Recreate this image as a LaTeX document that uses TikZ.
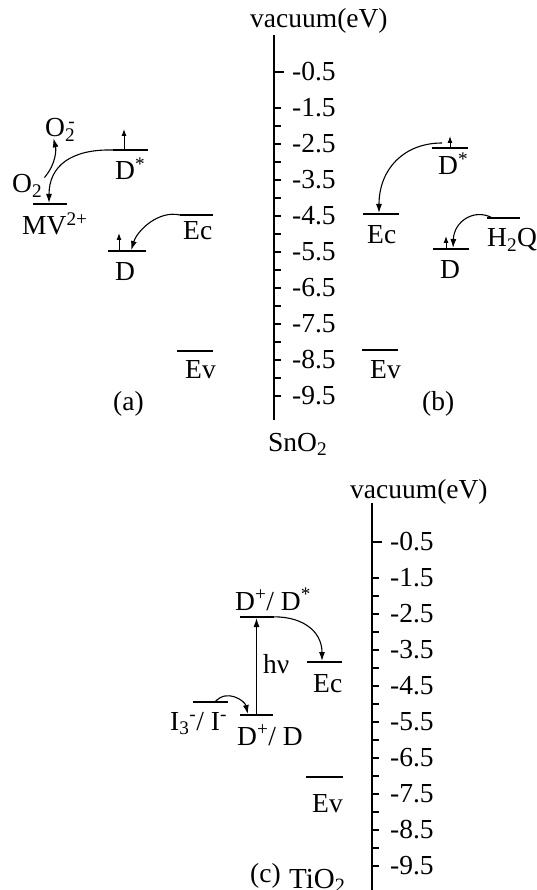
\documentclass[tikz,border=0pt]{standalone}
\usepackage{fontspec}
\setmainfont{Liberation Serif}
\usetikzlibrary{arrows.meta}

\begin{document}
\begin{tikzpicture}[x=1pt, y=-1pt,
  lvl/.style={minimum width=35pt, minimum height=0pt, inner sep=0pt, outer sep=0pt,
              append after command={(\tikzlastnode.west) edge[line width=1.5pt] (\tikzlastnode.east)}},
  lbl/.style={inner sep=0pt, anchor=base west, font=\fontsize{27.5}{33}\selectfont},
  val/.style={inner sep=0pt, anchor=west, font=\fontsize{27.5}{33}\selectfont},
  arr/.style={-{Latex[length=9pt,width=6pt]}, line width=1.1pt, shorten >=1pt},
  spin/.style={-{Latex[length=7pt,width=5pt]}, line width=1pt},
  axis/.style={line width=1.4pt},
]
  \useasboundingbox[fill=white] (0,0) rectangle (537,890);

  % SnO2 scale
  \node[lbl] (vacSn) at (250,28) {vacuum(eV)};
  \coordinate (snTop) at (274,35);
  \coordinate (snBot) at (274,420);
  \draw[axis] (snTop) -- (snBot);
  \draw[axis] (274,72) -- ++(10,0);
  \foreach \k in {3,...,19}
    \draw[axis] (274,{54+18*\k}) -- ++(7,0);
  \foreach \e [count=\i] in {0,...,9}
    \node[val] (sn\i) at (292,{72+36*\e}) {-\e.5};
  \node[lbl] (snO) at (268,451) {SnO\textsubscript{2}};

  % (a)
  \node[lvl] (lvDsA) at (130.5,150) {};
  \node[lvl, minimum width=34pt] (lvMV) at (50,204) {};
  \node[lvl, minimum width=33pt] (lvEcA) at (196.5,215) {};
  \node[lvl, minimum width=38pt] (lvDA) at (127,251) {};
  \node[lvl, minimum width=36pt] (lvEvA) at (195,351) {};
  \node[lbl] (lblO2m) at (45,137) {O\textsubscript{2}\llap{\textsuperscript{-}}};
  \node[lbl] (lblO2) at (12,193) {O\textsubscript{2}};
  \node[lbl] (lblMV) at (22,235) {MV\textsuperscript{2+}};
  \node[lbl] (lblDsA) at (115,180) {D\textsuperscript{*}};
  \node[lbl] (lblEcA) at (183,240) {Ec};
  \node[lbl] (lblDA) at (115,280) {D};
  \node[lbl] (lblEvA) at (185,378) {Ev};
  \node[lbl] (lblA) at (113,410) {(a)};
  \draw[spin] ([xshift=-6.5pt]lvDsA.center) -- ++(0,-21);
  \draw[spin] ([xshift=-8pt]lvDA.center) -- ++(0,-18);
  \draw[arr] ([xshift=2pt,yshift=-3pt]lblO2.north east) .. controls +(12,-14) and +(3,12) .. ([xshift=-7pt,yshift=4pt]lblO2m.south);
  \draw[arr] (lvDsA.west) .. controls +(-42,-1) and +(0,-38) .. ([xshift=-1pt]lvMV.north);
  \draw[arr] (lvEcA.west) .. controls +(-22,-5) and +(6,-20) .. ([xshift=4pt]lvDA.north);

  % (b)
  \node[lvl, minimum width=36pt] (lvDsB) at (450,148) {};
  \node[lvl, minimum width=36pt] (lvEcB) at (381,214) {};
  \node[lvl, minimum width=33pt] (lvH2Q) at (503.5,218) {};
  \node[lvl, minimum width=36pt] (lvDB) at (451,249) {};
  \node[lvl, minimum width=36pt] (lvEvB) at (380,350) {};
  \node[lbl] (lblDsB) at (438,175) {D\textsuperscript{*}};
  \node[lbl] (lblEcB) at (367,244) {Ec};
  \node[lbl] (lblH2Q) at (487,247) {H\textsubscript{2}Q};
  \node[lbl] (lblDB) at (440,278) {D};
  \node[lbl] (lblEvB) at (370,378) {Ev};
  \node[lbl] (lblB) at (422,410) {(b)};
  \draw[spin] (lvDsB.center) -- ++(0,-12);
  \draw[spin] ([xshift=-5pt]lvDB.center) -- ++(0,-13);
  \draw[arr] ([xshift=-8pt,yshift=5pt]lvDsB.center) .. controls +(-38,0) and +(0,-45) .. ([xshift=-2pt]lvEcB.north);
  \draw[arr] ([xshift=-11pt]lvH2Q.center) .. controls +(-18,-10) and +(1,-28) .. ([xshift=2pt]lvDB.north);

  % TiO2 scale
  \node[lbl] (vacTi) at (350,498) {vacuum(eV)};
  \coordinate (tiTop) at (372,503);
  \coordinate (tiBot) at (372,890);
  \draw[axis] (tiTop) -- (tiBot);
  \draw[axis] (372,542) -- ++(10,0);
  \foreach \k in {3,...,19}
    \draw[axis] (372,{524+18*\k}) -- ++(7,0);
  \foreach \e [count=\i] in {0,...,9}
    \node[val] (ti\i) at (390,{542+36*\e}) {-\e.5};
  \node[lbl, font=\fontsize{29}{34}\selectfont] (tiO) at (289,888) {TiO\textsubscript{2}};

  % (c)
  \node[lvl, minimum width=34pt] (lvDsC) at (256.5,617) {};
  \node[lvl, minimum width=33pt] (lvDC) at (256.5,715) {};
  \node[lvl] (lvEcC) at (324.5,662) {};
  \node[lvl] (lvI) at (210.5,702) {};
  \node[lvl, minimum width=37pt] (lvEvC) at (324.5,777) {};
  \node[lbl] (lblDsC) at (235,610) {D\textsuperscript{+}/ D\textsuperscript{*}};
  \node[lbl] (lblHnu) at (263,673) {hν};
  \node[lbl] (lblEcC) at (313,692) {Ec};
  \node[lbl] (lblI) at (170,730) {I\textsubscript{3}\textsuperscript{-}/ I\textsuperscript{-}};
  \node[lbl] (lblDC) at (237,745) {D\textsuperscript{+}/ D};
  \node[lbl] (lblEvC) at (312,812) {Ev};
  \node[lbl] (lblC) at (250,882) {(c)};
  \draw[arr] (lvDC) -- (lvDsC);
  \draw[arr] ([xshift=-5pt]lvDsC.east) .. controls +(32,-2) and +(0,-32) .. ([xshift=-2.5pt]lvEcC.north);
  \draw[arr] ([xshift=4.5pt]lvI.center) .. controls +(12,-14) and +(-3,-14) .. ([xshift=-8.5pt]lvDC.north);
\end{tikzpicture}
\end{document}
